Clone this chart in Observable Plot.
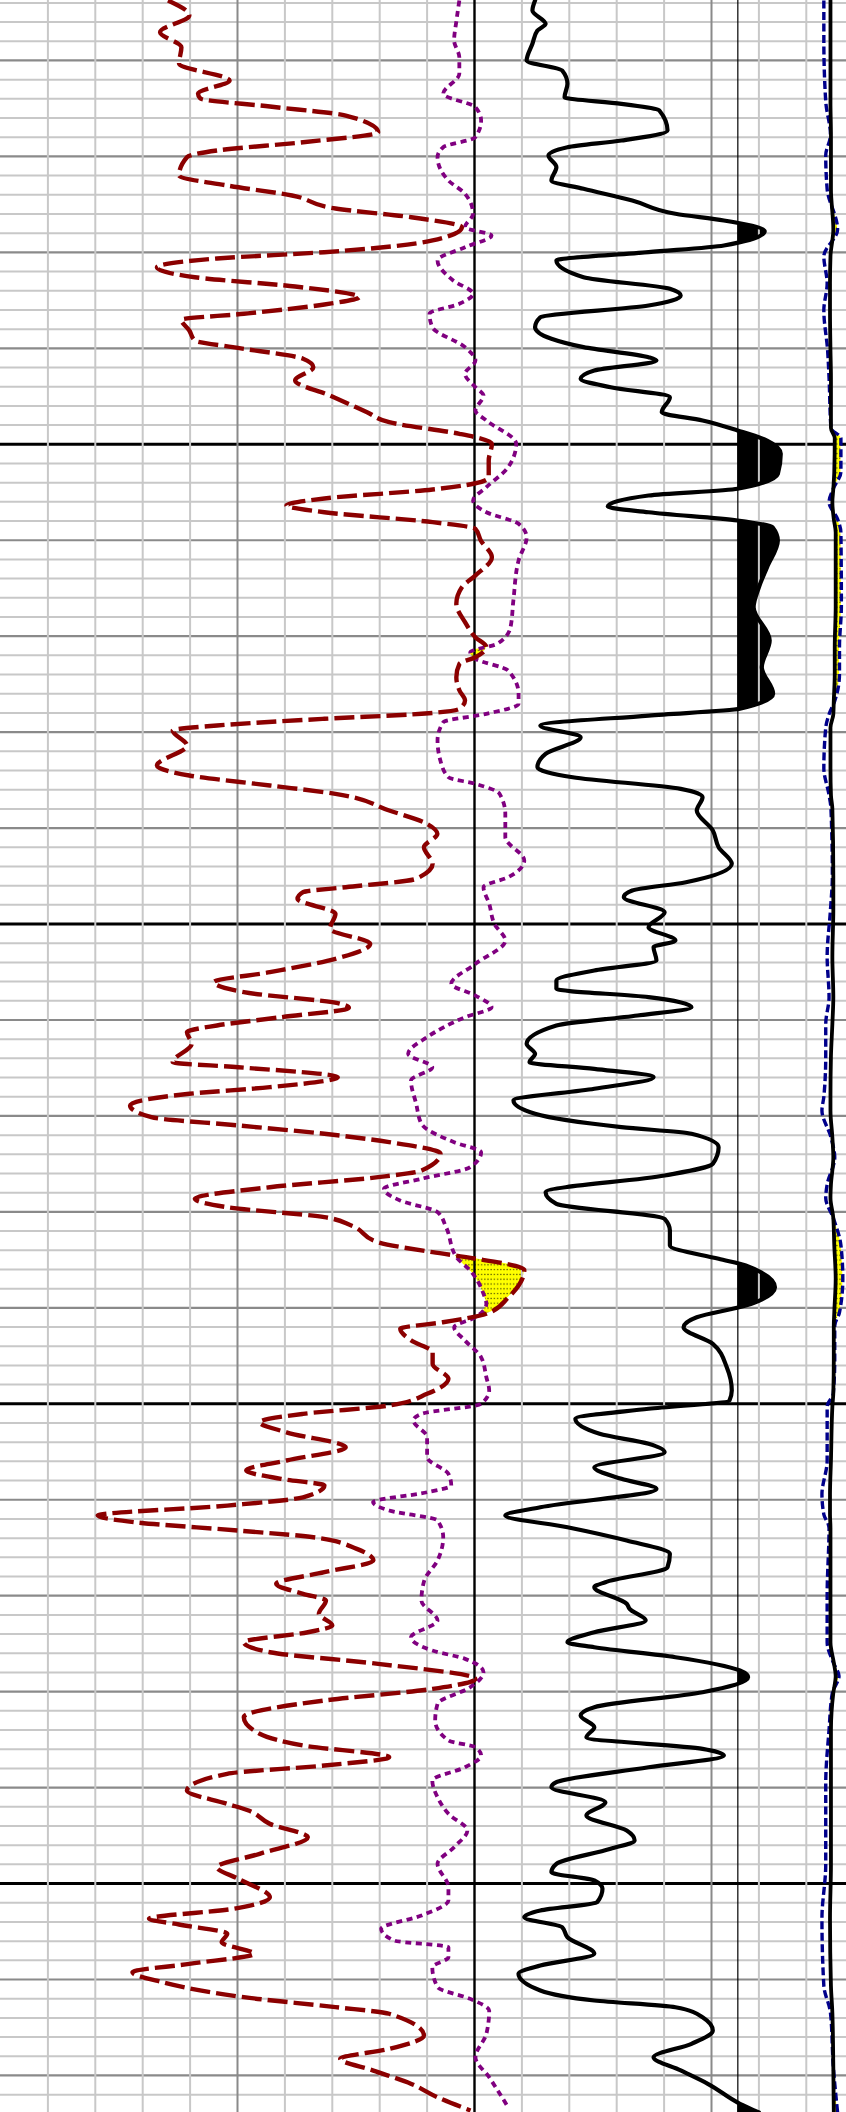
<!DOCTYPE html>
<html>
<head>
<meta charset="utf-8">
<script src="https://cdn.jsdelivr.net/npm/d3@7"></script>
<script src="https://cdn.jsdelivr.net/npm/@observablehq/plot@0.6"></script>
<style>
html, body { margin: 0; padding: 0; background: #fff; }
#chart { position: relative; width: 846px; height: 2112px; overflow: hidden; background: #fff; }
#chart > svg { position: absolute; left: 0; top: 0; }
</style>
</head>
<body>
<svg width="0" height="0" style="position:absolute">
  <defs>
    <pattern id="dots" patternUnits="userSpaceOnUse" width="3.2" height="4.8">
      <rect width="3.2" height="4.8" fill="#ffff00"></rect>
      <rect x="1" y="1.8" width="1.2" height="1.2" fill="#000" fill-opacity="0.75"></rect>
    </pattern>
  </defs>
</svg>
<div id="chart"></div>
<script>
// ---------- data (depth in ft) ----------
const nphiDepth = [1003.75,1005.31,1007.05,1008.62,1010.32,1012.09,1013.44,1013.96,1014.8,1015.74,1017.48,1018.52,1019.38,1020.08,1021.99,1023.03,1024.07,1025.43,1026.34,1027.38,1028.76,1029.98,1030.64,1031.55,1032.59,1033.56,1034.67,1035.43,1036.4,1037.03,1038.14,1039.19,1039.88,1041.09,1041.97,1043.35,1044.92,1046.66,1047.7,1048.91,1049.26,1049.95,1051.69,1053.43,1054.09,1054.71,1055.65,1056.38,1057.08,1058.12,1058.81,1060.03,1061.77,1063.68,1064.9,1066.62,1068.54,1070.1,1071.15,1072.19,1072.88,1074.27,1075.66,1076.7,1077.57,1078.09,1078.61,1079.31,1079.83,1081.39,1083.48,1084.52,1085.56,1086.43,1088.17,1089.56,1090.6,1092.0,1093.72,1095.29,1096.16,1096.68,1097.37,1098.93,1100.5,1102.06,1103.62,1105.02,1106.06,1107.1,1108.31,1108.73,1109.71,1110.57,1111.27,1112.48,1114.4,1114.92,1115.96,1117.0,1117.69,1118.91,1120.13,1120.99,1121.86,1122.73,1123.94,1125.69,1126.38,1127.43,1128.64,1129.51,1130.55,1131.42,1133.16,1134.2,1134.79,1136.04,1138.89,1140.62,1141.5,1142.19,1143.41,1144.63,1145.84,1147.4,1148.96,1150.18,1151.05,1151.92,1152.97,1154.53,1155.91,1156.95,1157.82,1158.52,1159.74,1160.61,1161.65,1162.35,1163.21,1163.91,1165.12,1166.33,1167.55,1168.76,1169.8,1170.5,1171.89,1173.11,1173.81,1174.85,1175.89,1177.1,1178.67,1179.71,1180.92,1182.66,1184.39,1185.61,1186.83,1187.7,1188.56,1190.3,1191.69,1192.39,1193.78,1195.17,1196.9,1198.3,1199.51,1201.43,1202.64,1203.68,1204.27,1205.24,1206.12,1207.33,1208.37,1209.24,1210.28,1211.84,1212.88,1213.57,1215.84,1217.23,1218.27,1219.49,1220.88,1222.27,1223.65];
const nphiValue = [23.8,21.1,24.8,22.1,22.4,16.0,20.0,19.7,10.9,1.3,-2.8,6.7,17.6,21.4,22.4,16.3,8.1,2.6,-7.0,-13.4,-9.7,4.0,17.6,25.2,20.4,7.7,-0.4,4.0,14.2,22.1,21.1,20.4,15.6,6.7,5.4,7.7,3.3,-1.4,-4.2,-13.1,-15.1,-17.2,-16.8,-16.8,-15.0,-9.7,4.0,8.8,4.0,-9.7,-15.1,-15.8,-17.2,-15.1,-13.4,-12.7,-13.8,-15.1,-16.5,-15.1,-13.1,-12.7,-13.1,-13.8,-13.1,-8.3,4.0,17.6,23.2,21.4,25.2,21.1,10.9,2.6,-4.2,-9.0,-10.3,-8.6,-9.7,-7.6,1.3,6.7,7.4,2.6,3.3,-1.8,2.6,10.9,18.0,14.2,2.0,0.9,9.5,17.6,21.4,20.8,23.2,14.9,2.3,10.9,21.1,28.6,25.9,14.9,4.0,-4.2,-10.7,-8.3,-2.8,10.9,20.4,16.3,4.0,0.6,-2.8,-9.7,-14.5,-21.3,-19.3,-16.5,-11.0,-5.6,-7.0,-9.7,-9.7,-11.7,-9.0,-4.2,6.7,12.2,8.8,1.3,8.8,13.9,9.5,4.0,6.7,16.3,32.7,27.9,14.9,5.4,-0.1,-2.2,4.0,10.1,6.7,3.8,4.7,3.0,6.1,14.2,10.9,-2.8,-15.1,-9.7,4.0,14.2,12.2,6.7,-4.2,4.0,16.3,21.4,16.3,13.6,10.9,6.1,12.2,17.6,14.9,10.9,15.6,26.2,22.4,16.3,17.0,12.9,21.1,28.3,24.5,14.2,2.6,-4.2,-8.6,-4.2,2.0,-2.2,-7.0,-10.3,-14.5];

const rhobDepth = [1003.75,1005.83,1007.92,1009.66,1011.39,1013.47,1014.87,1016.26,1018.0,1019.04,1020.08,1022.51,1023.9,1025.98,1027.38,1028.24,1029.46,1030.85,1032.93,1034.32,1035.36,1036.4,1037.8,1039.88,1041.27,1042.66,1044.05,1044.92,1046.48,1047.52,1049.95,1052.39,1054.47,1055.86,1057.08,1058.29,1059.68,1062.11,1066.28,1069.06,1070.79,1071.67,1072.36,1073.58,1076.01,1077.05,1078.09,1078.97,1080.87,1082.96,1084.7,1085.39,1086.43,1088.51,1090.95,1093.38,1095.12,1096.16,1097.89,1099.98,1101.72,1104.15,1106.23,1107.45,1108.67,1109.71,1111.79,1113.53,1114.92,1116.31,1118.74,1120.82,1122.74,1123.78,1125.34,1126.55,1127.6,1128.81,1130.03,1131.59,1134.72,1136.11,1138.54,1139.58,1140.98,1142.02,1143.41,1145.15,1147.23,1148.62,1150.0,1151.05,1151.74,1153.48,1155.57,1157.3,1158.52,1159.22,1160.26,1161.12,1162.16,1163.9,1166.33,1168.42,1170.5,1172.59,1174.33,1175.71,1176.58,1177.97,1179.54,1181.27,1183.01,1185.09,1185.79,1186.66,1187.88,1189.26,1191.0,1192.73,1194.47,1196.21,1197.94,1200.38,1201.77,1203.33,1204.72,1205.94,1206.64,1207.68,1208.72,1210.8,1212.02,1213.24,1215.67,1218.1,1220.19,1223.31];
const rhobValue = [2.668,2.662,2.657,2.668,2.668,2.634,2.702,2.714,2.702,2.634,2.622,2.645,2.680,2.697,2.680,2.736,2.680,2.622,2.655,2.697,2.668,2.605,2.611,2.680,2.702,2.680,2.702,2.719,2.702,2.725,2.788,2.771,2.725,2.697,2.725,2.793,2.810,2.793,2.782,2.776,2.748,2.691,2.702,2.771,2.793,2.793,2.725,2.634,2.622,2.628,2.645,2.702,2.753,2.765,2.765,2.805,2.771,2.719,2.731,2.742,2.765,2.702,2.651,2.702,2.736,2.680,2.600,2.560,2.611,2.566,2.577,2.588,2.657,2.714,2.691,2.588,2.509,2.543,2.622,2.640,2.662,2.691,2.719,2.725,2.702,2.657,2.680,2.714,2.725,2.731,2.714,2.588,2.571,2.600,2.600,2.645,2.651,2.600,2.486,2.520,2.622,2.634,2.622,2.594,2.588,2.622,2.566,2.611,2.680,2.719,2.691,2.622,2.617,2.645,2.702,2.714,2.680,2.611,2.622,2.645,2.685,2.657,2.622,2.645,2.645,2.588,2.503,2.531,2.645,2.645,2.611,2.622,2.691,2.731,2.725,2.702,2.731,2.771];

const grDepth = [1003.75,1004.79,1006.18,1006.88,1008.26,1010.0,1011.05,1012.43,1013.83,1014.52,1015.21,1017.3,1018.34,1019.04,1019.9,1021.12,1022.51,1023.37,1024.59,1025.98,1026.68,1027.79,1029.28,1029.98,1030.85,1032.59,1033.8,1034.5,1035.54,1036.76,1037.8,1039.01,1039.88,1040.93,1041.27,1042.31,1043.18,1044.05,1045.09,1046.66,1047.52,1048.56,1049.61,1050.99,1053.08,1054.64,1055.34,1056.48,1057.08,1057.94,1058.64,1060.03,1062.81,1064.9,1066.98,1070.45,1073.23,1076.0,1077.57,1078.27,1079.31,1080.53,1082.26,1083.65,1084.7,1085.91,1086.78,1088.17,1090.25,1091.99,1093.72,1095.64,1096.51,1097.2,1098.77,1100.33,1101.72,1102.41,1103.8,1104.84,1105.88,1106.75,1107.62,1108.67,1109.53,1110.57,1112.48,1113.53,1114.4,1115.09,1115.96,1117.17,1118.39,1119.78,1121.17,1121.86,1123.26,1124.99,1126.21,1127.95,1129.16,1130.72,1131.94,1133.5,1134.89,1135.59,1137.85,1139.76,1140.98,1142.02,1143.75,1146.19,1148.62,1149.66,1150.52,1151.57,1153.13,1154.17,1155.05,1156.61,1157.82,1158.86,1160.78,1161.64,1162.86,1164.25,1165.64,1167.03,1168.59,1169.11,1170.84,1171.37,1172.58,1173.81,1174.85,1175.37,1176.41,1177.8,1178.5,1180.06,1181.62,1182.49,1183.71,1184.75,1185.96,1186.66,1187.88,1189.44,1189.96,1191.53,1192.91,1194.47,1195.51,1196.38,1197.94,1198.82,1199.68,1200.55,1201.94,1202.81,1203.51,1204.55,1205.59,1207.32,1208.54,1209.41,1211.15,1212.19,1212.89,1213.93,1215.32,1216.7,1218.1,1219.48,1220.87,1222.95,1223.86];
const grValue = [23.0,22.0,27.0,23.9,22.0,19.8,33.3,35.3,34.2,55.8,70.2,73.3,55.8,35.3,28.1,31.1,29.2,41.4,59.9,76.3,94.7,110.2,94.7,66.1,31.1,41.4,74.2,78.3,66.1,25.0,23.0,29.2,41.4,66.1,69.1,45.5,40.3,51.7,74.2,71.1,86.6,99.9,111.1,116.3,115.2,99.9,66.1,50.6,66.1,99.9,113.2,115.2,111.1,108.0,106.0,112.1,109.1,113.4,100.8,66.1,25.0,40.3,27.0,23.9,37.3,78.3,86.6,84.4,90.5,92.7,97.7,80.3,59.9,56.7,72.2,66.1,76.3,68.0,69.1,45.5,31.1,31.1,66.1,82.4,61.9,31.1,19.8,23.0,20.9,45.5,68.0,45.5,14.8,23.0,55.8,82.4,92.7,90.5,72.2,27.0,31.1,72.2,74.2,74.2,92.7,103.0,114.1,103.0,84.4,79.4,90.5,95.8,97.7,96.8,66.1,38.3,47.5,66.1,72.2,45.5,55.8,69.1,25.0,11.7,35.3,57.8,74.2,73.3,49.7,45.5,57.8,58.9,65.0,45.5,35.3,45.5,76.3,100.8,103.9,86.6,45.5,40.3,45.5,42.5,86.6,94.7,66.1,31.1,29.2,49.7,42.5,57.8,60.8,51.7,31.1,29.2,45.5,48.6,46.6,25.0,18.9,33.3,35.3,45.5,25.0,16.7,25.0,45.5,76.3,86.6,90.5,82.4,68.0,78.3,88.6,100.8,108.0];
const grCutoff = 100;

const caliDepth = [1003.75,1007.96,1014.28,1017.79,1019.89,1023.4,1027.61,1030.42,1033.23,1036.03,1040.24,1043.05,1048.31,1049.37,1052.88,1054.63,1056.03,1057.79,1059.19,1066.91,1071.12,1073.93,1076.74,1078.14,1079.54,1083.76,1086.56,1087.97,1094.98,1098.49,1103.41,1107.62,1110.42,1113.79,1118.02,1119.42,1122.23,1124.34,1127.14,1128.55,1130.65,1133.46,1136.97,1140.48,1141.88,1145.39,1148.9,1150.3,1155.92,1159.43,1161.53,1162.94,1169.95,1174.86,1176.97,1178.38,1180.13,1183.99,1189.6,1198.03,1203.64,1210.66,1213.47,1219.08,1223.85];
const bitSize = [13.51,13.51,13.51,13.52,13.52,13.52,13.57,13.51,13.50,13.50,13.51,13.52,13.52,13.60,13.59,13.57,13.55,13.58,13.62,13.62,13.60,13.60,13.58,13.57,13.51,13.51,13.52,13.55,13.57,13.57,13.55,13.57,13.55,13.52,13.51,13.51,13.55,13.57,13.52,13.51,13.57,13.59,13.62,13.59,13.58,13.58,13.57,13.55,13.52,13.50,13.50,13.51,13.51,13.51,13.58,13.62,13.57,13.52,13.52,13.52,13.50,13.52,13.55,13.57,13.58];
const caliValue = [13.37,13.37,13.41,13.51,13.41,13.44,13.66,13.37,13.44,13.37,13.45,13.48,13.52,13.73,13.73,13.57,13.48,13.66,13.73,13.74,13.70,13.70,13.60,13.48,13.41,13.37,13.48,13.52,13.55,13.51,13.44,13.48,13.41,13.41,13.37,13.33,13.52,13.60,13.44,13.41,13.57,13.73,13.77,13.70,13.60,13.60,13.57,13.44,13.44,13.33,13.37,13.48,13.44,13.44,13.57,13.69,13.55,13.48,13.41,13.41,13.33,13.37,13.51,13.57,13.66];

// grid ticks (depth, ft) and track divisions
const gridDepths = d3.range(1004, 1224, 2);
const trackDivisions = d3.range(1, 21);

// ---------- helpers ----------
const W = 846, H = 2112;
const depthTop = 1003.75, depthBottom = 1223.86;
const rows = (zs, vs, key = "v") => zs.map((z, i) => ({z, [key]: vs[i]}));

// same interpolation as d3.curveMonotoneY, used to build fill polygons that hug the drawn curves
function monotone(xs, ys) {
  const n = xs.length, t = new Array(n).fill(0);
  for (let i = 1; i < n - 1; i++) {
    const h0 = xs[i] - xs[i - 1], h1 = xs[i + 1] - xs[i];
    const s0 = (ys[i] - ys[i - 1]) / h0, s1 = (ys[i + 1] - ys[i]) / h1;
    const p = (s0 * h1 + s1 * h0) / (h0 + h1);
    t[i] = (Math.sign(s0) + Math.sign(s1)) * Math.min(Math.abs(s0), Math.abs(s1), 0.5 * Math.abs(p)) || 0;
  }
  t[0] = (3 * (ys[1] - ys[0]) / (xs[1] - xs[0]) - t[1]) / 2;
  t[n - 1] = (3 * (ys[n - 1] - ys[n - 2]) / (xs[n - 1] - xs[n - 2]) - t[n - 2]) / 2;
  return z => {
    if (z <= xs[0]) return ys[0];
    if (z >= xs[n - 1]) return ys[n - 1];
    let i = Math.max(0, Math.min(n - 2, d3.bisectRight(xs, z) - 1));
    const h = xs[i + 1] - xs[i], u = (z - xs[i]) / h, u2 = u * u, u3 = u2 * u;
    return (2 * u3 - 3 * u2 + 1) * ys[i] + (u3 - 2 * u2 + u) * h * t[i] + (-2 * u3 + 3 * u2) * ys[i + 1] + (u3 - u2) * h * t[i + 1];
  };
}

const yOpt = {domain: [depthTop, depthBottom], range: [0, H], axis: null};
const divX = {domain: [0, 20], range: [0, 948]};
const nphiX = {domain: [45, -15], range: [0, 474]};
const rhobX = {domain: [1.70, 2.70], range: [0, 474]};
const grX = {domain: [0, 180], range: [474, 948]};
const caliX = {domain: [6, 16], range: [474, 948]};

const chart = document.getElementById("chart");
function layer(xOpt, marks) {
  const svg = Plot.plot({
    width: W, height: H,
    marginTop: 0, marginRight: 0, marginBottom: 0, marginLeft: 0,
    x: {...xOpt, axis: null},
    y: yOpt,
    style: {background: "transparent", overflow: "hidden"},
    marks
  });
  chart.appendChild(svg);
}

// ---------- fill geometry ----------
const fN = monotone(nphiDepth, nphiValue);
const fR = monotone(rhobDepth, rhobValue);
const fG = monotone(grDepth, grValue);
const fC = monotone(caliDepth, caliValue);
const fB = monotone(caliDepth, bitSize);
const dense = d3.range(depthTop, depthBottom, 0.05);
// density curve expressed on the neutron track scale (same pixel position)
const rhobOnNphi = r => 45 - 60 * (r - 1.70);
const crossFill = dense.map(z => {
  const n = fN(z), e = rhobOnNphi(fR(z));
  return {z, a: n, b: Math.max(n, e)};
});
const grFill = dense.map(z => ({z, a: grCutoff, b: Math.max(grCutoff, fG(z))}));
const caliFill = dense.map(z => {
  const b = fB(z), c = fC(z);
  return {z, a: b, b: Math.max(b, c)};
});

// ---------- layers ----------
// horizontal grid
layer(divX, [
  Plot.ruleY(gridDepths.filter(d => d % 10 !== 0), {y: d => d, stroke: "#c8c8c8", strokeWidth: 2}),
  Plot.ruleY(gridDepths.filter(d => d % 10 === 0 && d % 50 !== 0), {y: d => d, stroke: "#8a8a8a", strokeWidth: 2.2}),
  Plot.ruleY(gridDepths.filter(d => d % 50 === 0), {y: d => d, stroke: "#000", strokeWidth: 3})
]);
// fills
layer(nphiX, [Plot.areaX(crossFill, {y: "z", x1: "a", x2: "b", fill: "url(#dots)", curve: "linear"})]);
layer(grX, [Plot.areaX(grFill, {y: "z", x1: "a", x2: "b", fill: "#000", curve: "linear"})]);
layer(caliX, [Plot.areaX(caliFill, {y: "z", x1: "a", x2: "b", fill: "url(#dots)", curve: "linear"})]);
// vertical grid
layer(divX, [
  Plot.ruleX(trackDivisions.filter(k => k % 5 !== 0), {x: d => d, stroke: "#c8c8c8", strokeWidth: 2}),
  Plot.ruleX(trackDivisions.filter(k => k % 5 === 0 && k % 10 !== 0), {x: d => d, stroke: "#8a8a8a", strokeWidth: 2}),
  Plot.ruleX(trackDivisions.filter(k => k % 10 === 0), {x: d => d, stroke: "#000", strokeWidth: 2.4})
]);
// curves
layer(rhobX, [
  Plot.line(rows(rhobDepth, rhobValue), {x: "v", y: "z", curve: "monotone-y", stroke: "#800080", strokeWidth: 3.8, strokeDasharray: "6,4.5", strokeLinecap: "butt"})
]);
layer(nphiX, [
  Plot.line(rows(nphiDepth, nphiValue), {x: "v", y: "z", curve: "monotone-y", stroke: "#8b0000", strokeWidth: 4.4, strokeDasharray: "20,6", strokeLinecap: "butt"})
]);
layer(grX, [
  Plot.ruleX([grCutoff], {stroke: "#000", strokeWidth: 1.2}),
  Plot.line(rows(grDepth, grValue), {x: "v", y: "z", curve: "monotone-y", stroke: "#000", strokeWidth: 4.2})
]);
layer(caliX, [
  Plot.line(rows(caliDepth, caliValue), {x: "v", y: "z", curve: "monotone-y", stroke: "#00008b", strokeWidth: 3.4, strokeDasharray: "8,3.5", strokeLinecap: "butt"}),
  Plot.line(rows(caliDepth, bitSize), {x: "v", y: "z", curve: "monotone-y", stroke: "#000", strokeWidth: 3.8})
]);
</script>
</body>
</html>
